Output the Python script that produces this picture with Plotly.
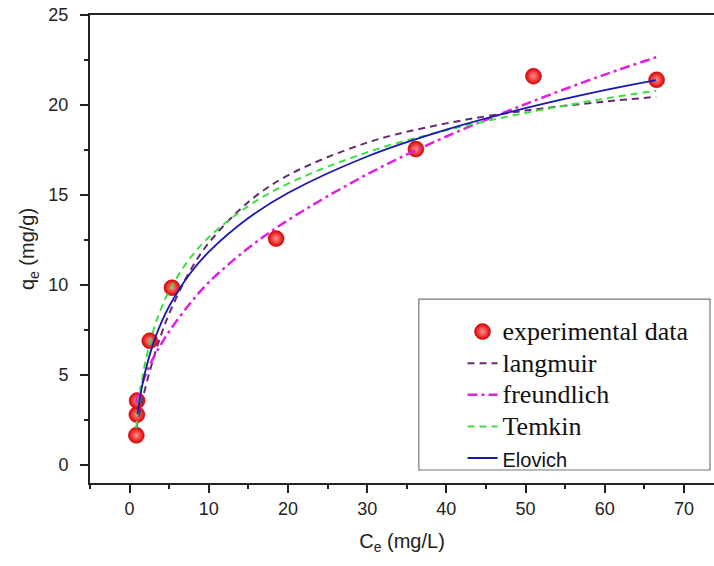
import plotly.graph_objects as go

# experimental data
ce_exp = [0.85, 0.92, 0.95, 2.55, 5.35, 18.5, 36.15, 51.0, 66.55]
qe_exp = [1.65, 2.8, 3.58, 6.9, 9.85, 12.58, 17.55, 21.6, 21.4]

# fitted curves
ce_fit = [0.85, 1, 1.5, 2, 3, 4, 5, 7.5, 10, 15, 20, 30, 40, 50, 60, 66.5]
q_langmuir = [2.05, 2.37, 3.38, 4.30, 5.91, 7.26, 8.41, 10.68, 12.34, 14.61, 16.09, 17.91, 18.98, 19.69, 20.19, 20.45]
q_freundlich = [3.45, 3.70, 4.41, 4.99, 5.95, 6.73, 7.42, 8.9, 10.15, 12.05, 13.6, 16.15, 18.25, 20.05, 21.69, 22.65]
q_temkin = [2.06, 2.76, 4.50, 5.74, 7.48, 8.71, 9.67, 11.41, 12.65, 14.39, 15.63, 17.37, 18.60, 19.56, 20.35, 20.79]
ce_elovich = [1, 1.5, 2, 3, 4, 5, 7.5, 10, 15, 20, 30, 40, 50, 60, 66.5]
q_elovich = [2.82, 4.20, 5.24, 6.77, 7.91, 8.82, 10.56, 11.84, 13.72, 15.11, 17.14, 18.63, 19.82, 20.82, 21.38]

SERIF = '<span style="font-family:Liberation Serif, Times New Roman; font-size:26px">{}</span>'
SANS = '<span style="font-family:Liberation Sans, Arial; font-size:20px">{}</span>'

fig = go.Figure()

fig.add_trace(go.Scatter(
    x=ce_exp, y=qe_exp, mode="markers", name=SERIF.format("experimental data"),
    marker=dict(size=16, color="#e00000",
                gradient=dict(type="radial", color="#ff9090"),
                line=dict(width=0.5, color="#b00000")),
))
fig.add_trace(go.Scatter(
    x=ce_fit, y=q_langmuir, mode="lines", name=SERIF.format("langmuir"),
    line=dict(color="#6a2a72", width=2, dash="7px,5px", shape="spline"),
))
fig.add_trace(go.Scatter(
    x=ce_fit, y=q_freundlich, mode="lines", name=SERIF.format("freundlich"),
    line=dict(color="#e020e0", width=2.5, dash="10px,4px,3px,4px", shape="spline"),
))
fig.add_trace(go.Scatter(
    x=ce_fit, y=q_temkin, mode="lines", name=SERIF.format("Temkin"),
    line=dict(color="#3ee03e", width=2, dash="7px,5px", shape="spline"),
))
fig.add_trace(go.Scatter(
    x=ce_elovich, y=q_elovich, mode="lines", name=SANS.format("Elovich"),
    line=dict(color="#1818b0", width=1.8, shape="spline"),
))

axis_font = dict(family="Liberation Sans, Arial", size=18, color="#222")

fig.update_layout(
    width=714, height=566,
    margin=dict(l=90, r=0, t=15, b=83),
    paper_bgcolor="white", plot_bgcolor="white",
    showlegend=True,
    legend=dict(
        x=0.597, y=0.368, xanchor="left", yanchor="top",
        font=dict(family="Liberation Serif, Times New Roman", size=22, color="#111"),
        bgcolor="rgba(0,0,0,0)", borderwidth=0,
    ),
    xaxis=dict(
        range=[-5, 73.8], showline=True, linecolor="#222", linewidth=2,
        mirror=True, ticks="outside", ticklen=8, tickwidth=1.5, tickcolor="#222",
        tick0=0, dtick=10, showgrid=False, zeroline=False,
        minor=dict(ticks="outside", ticklen=4, tickwidth=1.5, tickcolor="#222", dtick=5, tick0=0),
        tickfont=axis_font,
        title=dict(text="C<sub>e</sub> (mg/L)", font=dict(family="Liberation Sans, Arial", size=20, color="#222"), standoff=16),
    ),
    yaxis=dict(
        range=[-1, 25], showline=True, linecolor="#222", linewidth=2,
        ticks="outside", ticklen=8, tickwidth=1.5, tickcolor="#222",
        tick0=0, dtick=5, showgrid=False, zeroline=False,
        minor=dict(ticks="outside", ticklen=4, tickwidth=1.5, tickcolor="#222", dtick=2.5, tick0=0),
        tickfont=axis_font, ticklabelstandoff=8,
        title=dict(text="q<sub>e</sub> (mg/g)", font=dict(family="Liberation Sans, Arial", size=20, color="#222"), standoff=8),
    ),
    shapes=[dict(type="rect", xref="paper", yref="paper",
                 x0=0.527, x1=0.9936, y0=0.0278, y1=0.393,
                 line=dict(color="#777", width=1.2), fillcolor="rgba(0,0,0,0)", layer="below")],
)

fig.write_html("out.html")
